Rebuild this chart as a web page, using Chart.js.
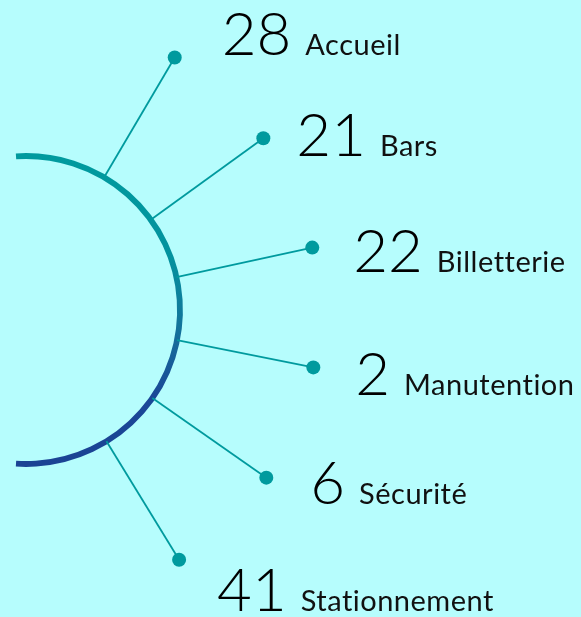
<!DOCTYPE html>
<html>
<head>
<meta charset="utf-8">
<script src="https://cdn.jsdelivr.net/npm/chart.js@4/dist/chart.umd.min.js"></script>
<style>
  html, body { margin: 0; padding: 0; background: #b6fdfd; }
  #wrap { width: 581px; height: 617px; position: relative; }
</style>
</head>
<body>
<div id="wrap"><canvas id="c" width="581" height="617"></canvas></div>
<script>
// ---- data ----
const categories = ['Accueil', 'Bars', 'Billetterie', 'Manutention', 'Sécurité', 'Stationnement'];
const values = [28, 21, 22, 2, 6, 41];

// ---- layout (geometry, not data) ----
const ARC_R = 154;          // radius of the half ring
const DOT_R = 293;          // radius where the dots sit
const CENTER_ANGLE = 0.5;   // degrees, middle of the fan
const STEP_ANGLE = 23.6;    // degrees between spokes
const LABEL_DX = [47, 33, 41, 42, 44, 38];
const LABEL_DY = [-3, 18, 24, 28, 26, 51];
const TEAL = '#009a9e';

const rad = d => d * Math.PI / 180;
const angleOf = i => rad(CENTER_ANGLE + STEP_ANGLE * ((categories.length - 1) / 2 - i));

const dotPoints = categories.map((c, i) => ({ x: DOT_R * Math.cos(angleOf(i)), y: DOT_R * Math.sin(angleOf(i)) }));
const spokeSets = categories.map((c, i) => ({
  type: 'line',
  data: [
    { x: ARC_R * Math.cos(angleOf(i)), y: ARC_R * Math.sin(angleOf(i)) },
    { x: DOT_R * Math.cos(angleOf(i)), y: DOT_R * Math.sin(angleOf(i)) }
  ],
  borderColor: TEAL,
  borderWidth: 1.8,
  pointRadius: 0,
  showLine: true,
  fill: false,
  order: 2
}));

const arcPlugin = {
  id: 'halfRing',
  beforeDatasetsDraw(chart) {
    const { ctx, scales: { x, y } } = chart;
    const cx = x.getPixelForValue(0), cy = y.getPixelForValue(0);
    const r = x.getPixelForValue(ARC_R) - cx;
    const g = ctx.createLinearGradient(0, cy - r, 0, cy + r);
    g.addColorStop(0, '#009a9e');
    g.addColorStop(0.33, '#03929e');
    g.addColorStop(0.55, '#13749b');
    g.addColorStop(0.78, '#1a4897');
    g.addColorStop(1, '#1b4394');
    ctx.save();
    ctx.beginPath();
    ctx.arc(cx, cy, r, -Math.PI / 2 - 0.065, Math.PI / 2 + 0.065);
    ctx.strokeStyle = g;
    ctx.lineWidth = 5.8;
    ctx.lineCap = 'butt';
    ctx.stroke();
    ctx.restore();
  }
};

const labelPlugin = {
  id: 'spokeLabels',
  afterDatasetsDraw(chart) {
    const { ctx } = chart;
    const meta = chart.getDatasetMeta(0);
    ctx.save();
    ctx.textBaseline = 'alphabetic';
    ctx.textAlign = 'left';
    meta.data.forEach((pt, i) => {
      const bx = pt.x + LABEL_DX[i];
      const by = pt.y + LABEL_DY[i];
      ctx.letterSpacing = '0px';
      ctx.font = '300 60px Lato';
      ctx.fillStyle = '#000';
      const num = String(values[i]);
      ctx.fillText(num, bx, by);
      const w = ctx.measureText(num).width;
      ctx.font = '400 29px Lato';
      ctx.letterSpacing = '0.5px';
      ctx.fillStyle = '#111';
      ctx.fillText(categories[i], bx + w + 14, by);
    });
    ctx.restore();
  }
};

new Chart(document.getElementById('c'), {
  type: 'scatter',
  data: {
    datasets: [
      {
        data: dotPoints,
        pointRadius: 7,
        pointHoverRadius: 7,
        pointBackgroundColor: TEAL,
        pointBorderWidth: 0,
        order: 1
      },
      ...spokeSets
    ]
  },
  options: {
    responsive: false,
    animation: false,
    layout: { padding: 0, autoPadding: false },
    scales: {
      x: { type: 'linear', min: -26, max: 555, display: false },
      y: { type: 'linear', min: -307, max: 310, display: false }
    },
    plugins: { legend: { display: false }, tooltip: { enabled: false } },
    clip: false
  },
  plugins: [arcPlugin, labelPlugin]
});
</script>
</body>
</html>
